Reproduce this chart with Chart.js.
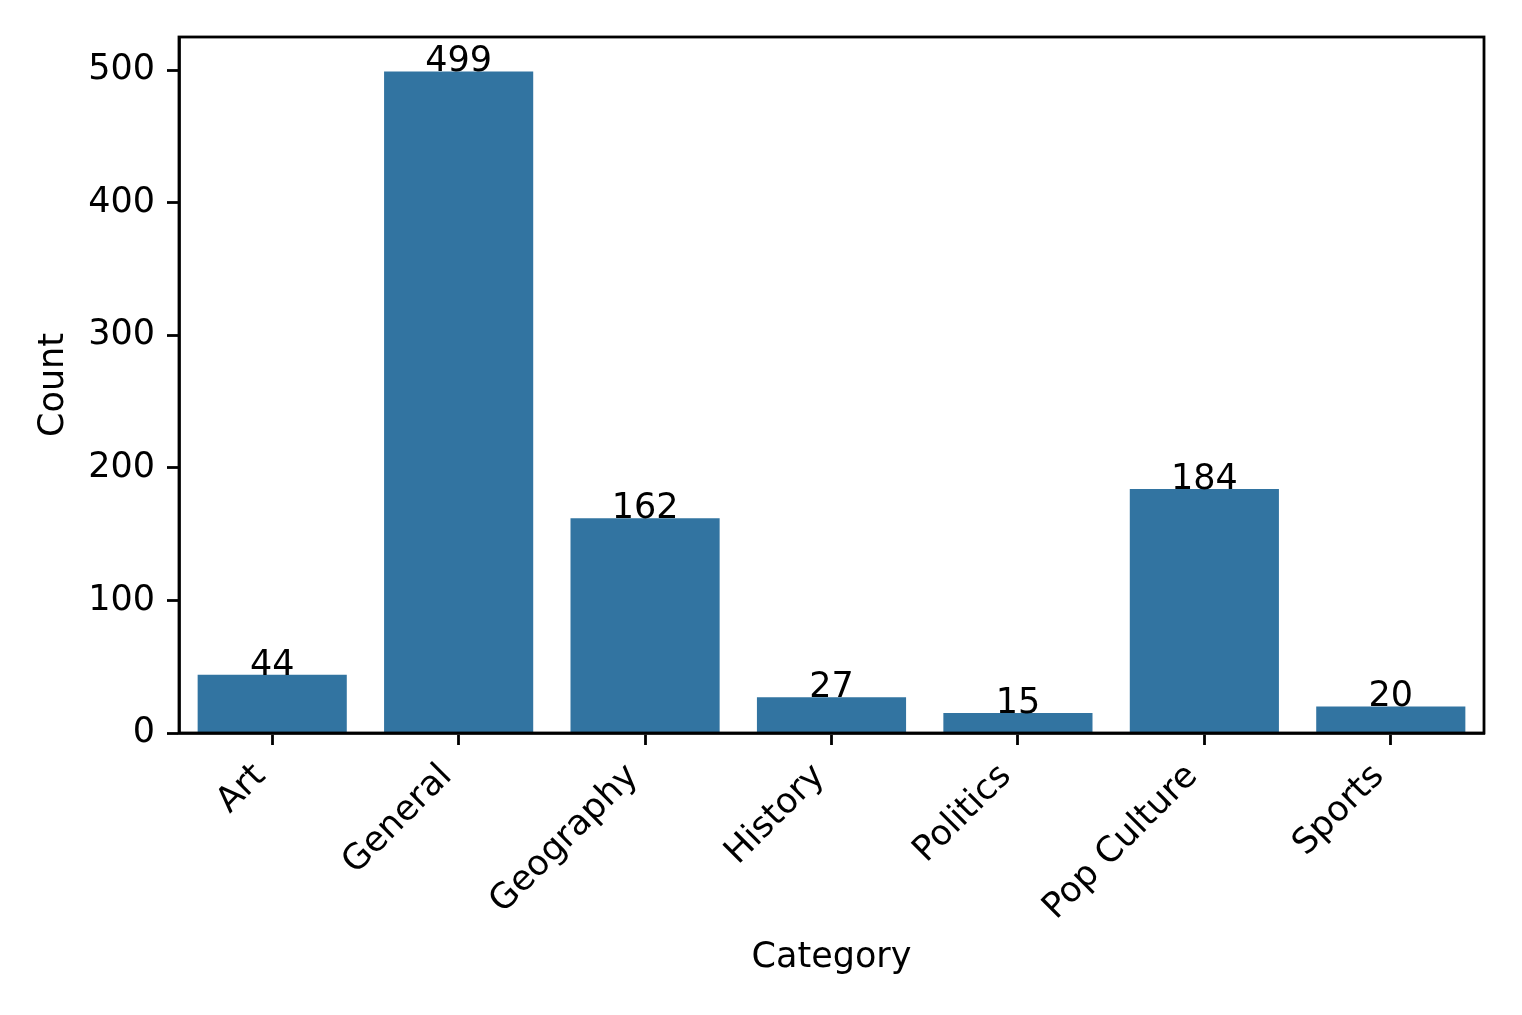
<!DOCTYPE html>
<html>
<head>
<meta charset="utf-8">
<script src="https://cdn.jsdelivr.net/npm/chart.js@4/dist/chart.umd.min.js"></script>
<style>
  html, body { margin: 0; padding: 0; background: #ffffff; }
  #wrap { width: 1522px; height: 1015px; position: relative; }
</style>
</head>
<body>
<div id="wrap"><canvas id="c" width="1522" height="1015"></canvas></div>
<script>
const categories = ["Art", "General", "Geography", "History", "Politics", "Pop Culture", "Sports"];
const counts = [44, 499, 162, 27, 15, 184, 20];
const yTicks = [0, 100, 200, 300, 400, 500];

const FONT = "'DejaVu Sans', sans-serif";
const FS = 35;
const LW = 2.8;

const framePlugin = {
  id: 'frame',
  afterDatasetsDraw(chart) {
    const { ctx, chartArea: a } = chart;
    ctx.save();
    ctx.strokeStyle = '#000';
    ctx.lineWidth = LW;
    ctx.strokeRect(a.left, a.top, a.right - a.left, a.bottom - a.top);
    ctx.restore();
  }
};

const valueLabels = {
  id: 'valueLabels',
  afterDatasetsDraw(chart) {
    const { ctx } = chart;
    const meta = chart.getDatasetMeta(0);
    ctx.save();
    ctx.font = FS + 'px ' + FONT;
    ctx.fillStyle = '#000';
    ctx.textAlign = 'center';
    ctx.textBaseline = 'alphabetic';
    meta.data.forEach((bar, i) => {
      const x = chart.scales.x.getPixelForValue(i);
      const y = chart.scales.y.getPixelForValue(counts[i]);
      ctx.fillText(String(counts[i]), x, y);
    });
    ctx.restore();
  }
};

new Chart(document.getElementById('c'), {
  type: 'bar',
  data: {
    labels: categories,
    datasets: [{
      data: counts,
      backgroundColor: '#3274a1',
      borderWidth: 0,
      categoryPercentage: 1.0,
      barPercentage: 0.8
    }]
  },
  options: {
    responsive: false,
    animation: false,
    devicePixelRatio: 1,
    layout: { padding: { top: 37, right: 38, left: 0, bottom: 0 } },
    plugins: { legend: { display: false }, tooltip: { enabled: false } },
    scales: {
      x: {
        afterFit(s) { s.height = 282; },
        grid: { display: true, offset: false, drawOnChartArea: false, drawTicks: true, tickLength: 12, tickColor: '#000', tickWidth: LW },
        border: { display: true, color: '#000', width: LW },
        ticks: {
          color: '#000',
          font: { family: FONT, size: FS, lineHeight: 1.2 },
          minRotation: 45, maxRotation: 45,
          padding: 11,
          labelOffset: -12,
          autoSkip: false
        },
        title: {
          display: true, text: 'Category', color: '#000',
          font: { family: FONT, size: FS, lineHeight: 1.2 },
          padding: { top: 0, bottom: 36 }
        }
      },
      y: {
        min: 0, max: 524.95,
        afterFit(s) { s.width = 179; },
        afterBuildTicks(s) { s.ticks = yTicks.map(v => ({ value: v })); },
        grid: { display: true, drawOnChartArea: false, drawTicks: true, tickLength: 12, tickColor: '#000', tickWidth: LW },
        border: { display: true, color: '#000', width: LW },
        ticks: {
          color: '#000',
          font: { family: FONT, size: FS, lineHeight: 1.2 },
          padding: 12
        },
        title: {
          display: true, text: 'Count', color: '#000',
          font: { family: FONT, size: FS, lineHeight: 1.2 },
          padding: { top: 33, bottom: 0 }
        }
      }
    }
  },
  plugins: [framePlugin, valueLabels]
});
</script>
</body>
</html>
